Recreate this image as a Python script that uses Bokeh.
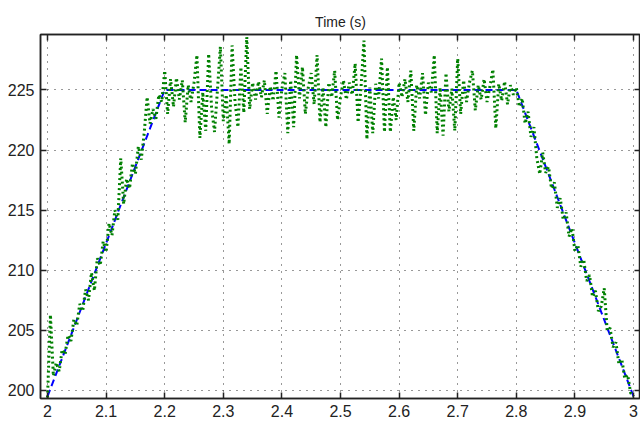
from bokeh.plotting import figure
from bokeh.models import Range1d, FixedTicker, LinearAxis, CustomLabelingPolicy
from bokeh.embed import file_html
from bokeh.resources import INLINE

# Reference profile (breakpoints of the trapezoid)
ref_t = [2.0, 2.2, 2.8, 3.0]
ref_v = [199.5, 225.0, 225.0, 199.5]

# Measured signal, sampled every dt seconds from t_start
t_start = 2.0
dt = 0.005
measured = [
    199.4, 206.3, 201.2, 202.3, 201.6, 203.4, 203.0, 204.6, 204.1, 205.9,
    205.4, 207.2, 206.6, 208.4, 207.5, 209.8, 208.3, 211.0, 210.4, 212.4,
    211.5, 213.9, 212.9, 215.0, 214.2, 219.3, 215.5, 217.6, 216.8, 218.9,
    218.0, 220.3, 219.2, 221.4, 224.4, 222.2, 223.4, 222.6, 224.6, 224.0,
    226.6, 223.0, 225.9, 223.6, 226.0, 224.2, 225.8, 222.3, 225.4, 224.0,
    225.6, 227.9, 221.0, 224.8, 221.6, 228.0, 223.5, 221.5, 225.0, 228.6,
    222.4, 224.6, 220.5, 228.7, 224.0, 221.9, 226.9, 223.1, 229.4, 223.4,
    225.6, 224.2, 225.7, 224.4, 225.8, 223.0, 225.3, 224.1, 226.6, 222.7,
    225.1, 226.4, 221.4, 225.8, 221.9, 227.9, 224.3, 226.9, 223.0, 225.2,
    226.4, 223.8, 227.9, 222.3, 225.2, 221.9, 225.6, 224.4, 226.6, 222.5,
    224.4, 225.8, 224.2, 225.6, 224.6, 227.2, 222.3, 225.2, 229.1, 220.9,
    225.2, 221.4, 225.5, 224.3, 227.6, 221.5, 226.9, 221.5, 224.4, 222.5,
    225.6, 224.4, 225.9, 224.0, 226.6, 221.6, 225.4, 224.3, 226.4, 222.9,
    225.6, 224.8, 227.9, 221.4, 225.2, 221.2, 226.4, 223.2, 225.1, 221.6,
    227.6, 223.0, 225.8, 224.0, 225.6, 226.6, 223.3, 225.4, 224.2, 225.9,
    224.0, 225.3, 226.7, 221.8, 225.5, 224.1, 225.7, 223.8, 225.4, 224.6,
    225.2, 223.6, 224.3, 222.2, 223.2, 221.1, 221.9, 219.3, 218.0, 219.8,
    218.1, 218.6, 216.8, 217.3, 215.2, 216.0, 214.2, 214.8, 212.8, 213.5,
    211.6, 212.1, 210.3, 210.9, 209.1, 209.6, 207.8, 208.3, 206.6, 207.0,
    208.5, 205.0, 205.2, 203.6, 204.0, 202.2, 202.6, 201.0, 201.3, 199.8,
    199.5,
]
measured_t = [t_start + k * dt for k in range(len(measured))]

x_ticks = [2.0, 2.1, 2.2, 2.3, 2.4, 2.5, 2.6, 2.7, 2.8, 2.9, 3.0]
x_tick_labels = ["2", "2.1", "2.2", "2.3", "2.4", "2.5", "2.6", "2.7", "2.8", "2.9", "3"]
y_ticks = [200, 205, 210, 215, 220, 225]

FONT = "Liberation Sans"
INK = "#222222"

p = figure(
    width=640, height=426,
    x_range=Range1d(1.98805, 3.0119),
    y_range=Range1d(199.33, 229.61),
    output_backend="svg", toolbar_location=None,
    min_border_left=40, min_border_right=0,
    min_border_top=34, min_border_bottom=28,
    title="Time (s)",
)
p.background_fill_color = "white"
p.border_fill_color = "white"
p.outline_line_color = INK
p.outline_line_width = 1.5

p.title.align = "center"
p.title.text_font = FONT
p.title.text_font_size = "14px"
p.title.text_font_style = "normal"
p.title.text_color = INK

# box axes (top/right) carry tick marks only: the policy drops every label
no_labels = CustomLabelingPolicy(code="""
    for (const i of indices) indices.unset(i)
    return indices
""")

def style_axis(ax, ticks, show_labels):
    ax.ticker = FixedTicker(ticks=ticks)
    ax.major_tick_in = 6
    ax.major_tick_out = 0
    ax.minor_tick_in = 0
    ax.minor_tick_out = 0
    ax.axis_line_color = INK
    ax.axis_line_width = 1.5
    ax.major_tick_line_color = INK
    ax.major_tick_line_width = 1.5
    ax.major_label_text_font = FONT
    ax.major_label_text_color = INK
    ax.major_label_text_font_size = "16px"
    ax.major_label_standoff = 6
    if not show_labels:
        ax.major_label_policy = no_labels
        ax.major_label_text_font_size = "0px"
        ax.major_label_standoff = 0

style_axis(p.xaxis[0], x_ticks, True)
p.xaxis[0].major_label_overrides = {t: s for t, s in zip(x_ticks, x_tick_labels)}
style_axis(p.yaxis[0], y_ticks, True)

top_axis = LinearAxis()
style_axis(top_axis, x_ticks, False)
p.add_layout(top_axis, "above")

right_axis = LinearAxis()
style_axis(right_axis, y_ticks, False)
p.add_layout(right_axis, "right")

p.xgrid.ticker = FixedTicker(ticks=x_ticks)
p.ygrid.ticker = FixedTicker(ticks=y_ticks)
for g in (p.xgrid, p.ygrid):
    g.grid_line_color = "#333333"
    g.grid_line_width = 1
    g.grid_line_dash = "1 6"

p.line(ref_t, ref_v, line_color="#0000ff", line_width=2, line_dash="7 4")
p.line(measured_t, measured, line_color="#008000", line_width=3, line_dash="2 3")

open("out.html", "w").write(file_html(p, INLINE))
